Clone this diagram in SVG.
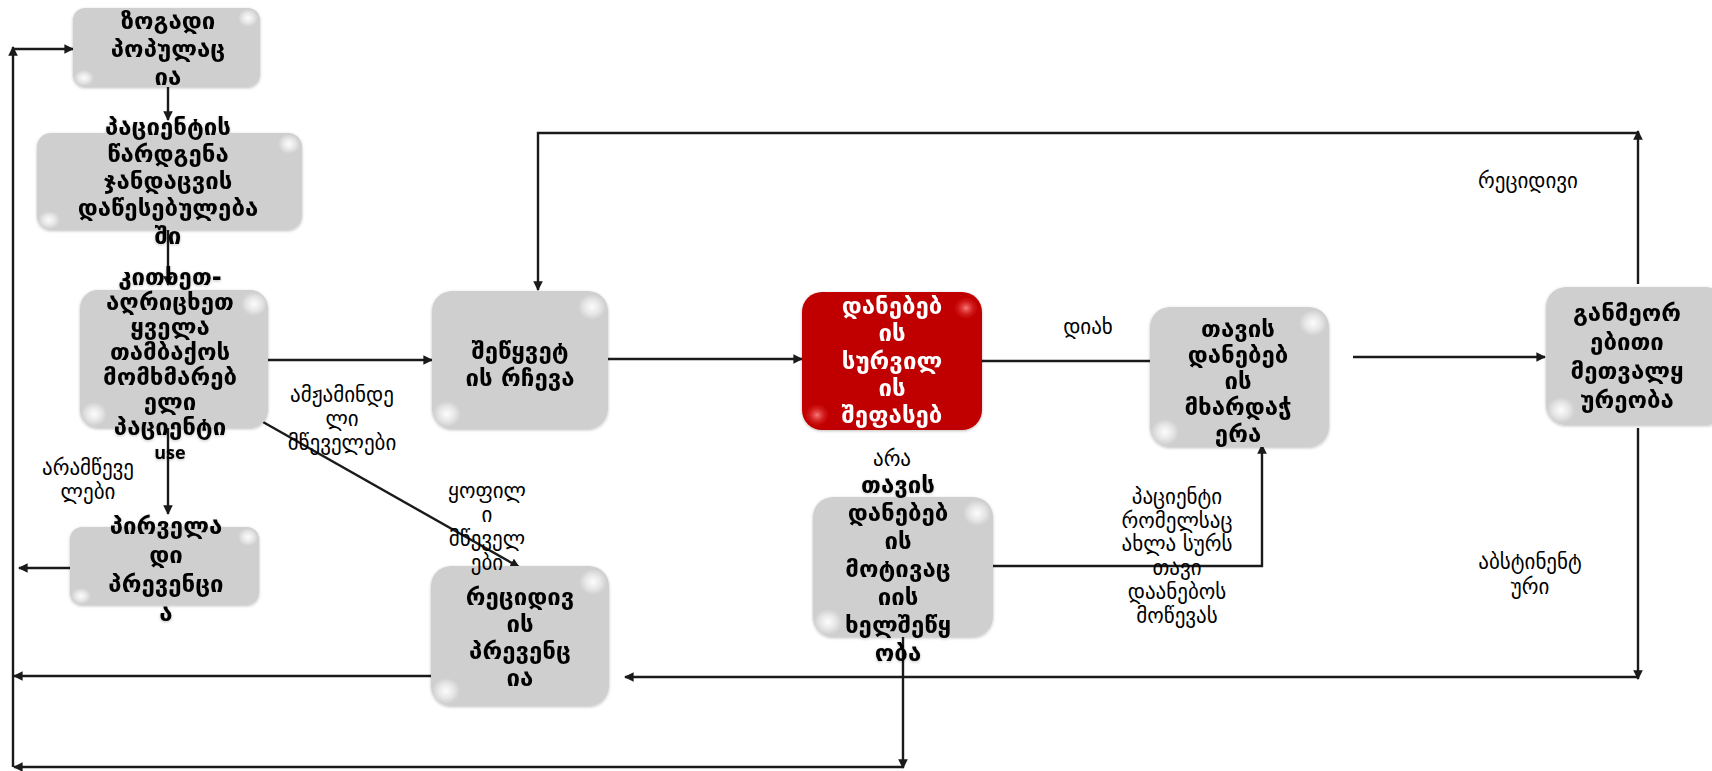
<svg xmlns="http://www.w3.org/2000/svg" width="1712" height="771" viewBox="0 0 1712 771">
<style>
.box{fill:#d0cfcf}
.red{fill:#c00000}
.nt{font-family:"DejaVu Sans",sans-serif;font-weight:bold;font-size:24px;fill:#000;text-anchor:middle}
.wt{fill:#fff}
.lb{font-family:"DejaVu Sans",sans-serif;font-size:21px;fill:#000;text-anchor:middle}
.lat{font-family:"Open Sans","Liberation Sans",sans-serif;font-weight:bold;font-size:18px;text-anchor:middle}
.ca{fill:none;stroke:#1a1a1a;stroke-width:2.4;marker-end:url(#ah)}
</style>
<defs>
<marker id="ah" viewBox="0 0 10 10" refX="9" refY="5" markerWidth="4" markerHeight="4" orient="auto" markerUnits="strokeWidth">
<path d="M0,0 L10,5 L0,10 z" fill="#1a1a1a"/>
</marker>
<radialGradient id="hl">
<stop offset="0" stop-color="#fff" stop-opacity="0.95"/>
<stop offset="0.55" stop-color="#fff" stop-opacity="0.5"/>
<stop offset="1" stop-color="#fff" stop-opacity="0"/>
</radialGradient>
<radialGradient id="hlr">
<stop offset="0" stop-color="#ff8a8a" stop-opacity="0.9"/>
<stop offset="0.55" stop-color="#e03030" stop-opacity="0.5"/>
<stop offset="1" stop-color="#c00000" stop-opacity="0"/>
</radialGradient>
<filter id="sh" x="-10%" y="-10%" width="120%" height="120%">
<feGaussianBlur in="SourceAlpha" stdDeviation="1.5"/>
<feOffset dx="0" dy="1" result="b"/>
<feFlood flood-color="#000" flood-opacity="0.25"/>
<feComposite in2="b" operator="in"/>
<feMerge><feMergeNode/><feMergeNode in="SourceGraphic"/></feMerge>
</filter>
</defs>

<g id="connectors">
<line class="ca" x1="168" y1="87" x2="168" y2="120"/>
<line class="ca" x1="168" y1="230" x2="168" y2="285"/>
<line class="ca" x1="168" y1="428" x2="168" y2="514"/>
<line class="ca" x1="73" y1="568" x2="19" y2="568"/>
<line class="ca" x1="267" y1="360" x2="432" y2="360"/>
<line class="ca" x1="263" y1="422" x2="519" y2="567"/>
<line class="ca" x1="608" y1="359" x2="802" y2="359"/>
<line class="ca" x1="982" y1="361" x2="1173" y2="361"/>
<line class="ca" x1="1353" y1="357" x2="1545" y2="357"/>
<polyline class="ca" points="993,566 1262,566 1262,445"/>
<line class="ca" x1="1638" y1="284" x2="1638" y2="131"/>
<polyline class="ca" points="1638,133 538,133 538,290"/>
<line class="ca" x1="1638" y1="428" x2="1638" y2="679"/>
<line class="ca" x1="1638" y1="677" x2="625" y2="677"/>
<line class="ca" x1="431" y1="676" x2="14" y2="676"/>
<line class="ca" x1="903" y1="637" x2="903" y2="768"/>
<line class="ca" x1="903" y1="767" x2="14" y2="767"/>
<line class="ca" x1="13" y1="767" x2="13" y2="47"/>
<line class="ca" x1="13" y1="49" x2="73" y2="49"/>
</g>

<g id="n1" filter="url(#sh)">
<rect class="box" x="73" y="8" width="187" height="79" rx="12"/>
<ellipse cx="248" cy="18" rx="10" ry="9" fill="url(#hl)"/>
<ellipse cx="84" cy="78" rx="10" ry="8" fill="url(#hl)"/>
<text class="nt" x="168"><tspan x="168" y="29">ზოგადი</tspan><tspan x="168" y="57">პოპულაც</tspan><tspan x="168" y="85">ია</tspan></text>
</g>

<g id="n2" filter="url(#sh)">
<rect class="box" x="37" y="133" width="265" height="97" rx="14"/>
<ellipse cx="289" cy="144" rx="11" ry="10" fill="url(#hl)"/>
<ellipse cx="49" cy="220" rx="11" ry="9" fill="url(#hl)"/>
<text class="nt" x="168"><tspan x="168" y="135">პაციენტის</tspan><tspan x="168" y="162">წარდგენა</tspan><tspan x="168" y="189">ჯანდაცვის</tspan><tspan x="168" y="216">დაწესებულება</tspan><tspan x="168" y="244">ში</tspan></text>
</g>

<g id="n3" filter="url(#sh)">
<rect class="box" x="80" y="290" width="188" height="138" rx="18"/>
<ellipse cx="254" cy="304" rx="13" ry="12" fill="url(#hl)"/>
<ellipse cx="94" cy="414" rx="13" ry="12" fill="url(#hl)"/>
<text class="nt" x="170"><tspan x="170" y="285">კითხეთ-</tspan><tspan x="170" y="310">აღრიცხეთ</tspan><tspan x="170" y="335">ყველა</tspan><tspan x="170" y="360">თამბაქოს</tspan><tspan x="170" y="385">მომხმარებ</tspan><tspan x="170" y="410">ელი</tspan><tspan x="170" y="435">პაციენტი</tspan></text>
<text class="lat" x="170" y="459">use</text>
</g>

<g id="n4" filter="url(#sh)">
<rect class="box" x="70" y="527" width="189" height="78" rx="12"/>
<ellipse cx="248" cy="537" rx="10" ry="9" fill="url(#hl)"/>
<ellipse cx="81" cy="596" rx="10" ry="8" fill="url(#hl)"/>
<text class="nt" x="166"><tspan x="166" y="534">პირველა</tspan><tspan x="166" y="563">დი</tspan><tspan x="166" y="592">პრევენცი</tspan><tspan x="166" y="621">ა</tspan></text>
</g>

<g id="n5" filter="url(#sh)">
<rect class="box" x="432" y="291" width="176" height="138" rx="20"/>
<ellipse cx="592" cy="307" rx="14" ry="13" fill="url(#hl)"/>
<ellipse cx="447" cy="414" rx="14" ry="13" fill="url(#hl)"/>
<text class="nt" x="520"><tspan x="520" y="359">შეწყვეტ</tspan><tspan x="520" y="386">ის რჩევა</tspan></text>
</g>

<g id="n6" filter="url(#sh)">
<rect class="box" x="431" y="566" width="178" height="140" rx="20"/>
<ellipse cx="593" cy="582" rx="14" ry="13" fill="url(#hl)"/>
<ellipse cx="446" cy="691" rx="14" ry="13" fill="url(#hl)"/>
<text class="nt" x="520"><tspan x="520" y="605">რეციდივ</tspan><tspan x="520" y="632">ის</tspan><tspan x="520" y="659">პრევენც</tspan><tspan x="520" y="686">ია</tspan></text>
</g>

<g id="n7" filter="url(#sh)">
<rect class="red" x="802" y="292" width="180" height="138" rx="20"/>
<ellipse cx="966" cy="308" rx="14" ry="13" fill="url(#hlr)"/>
<ellipse cx="817" cy="415" rx="14" ry="13" fill="url(#hlr)"/>
<text class="nt wt" x="892"><tspan x="892" y="314">დანებებ</tspan><tspan x="892" y="341">ის</tspan><tspan x="892" y="369">სურვილ</tspan><tspan x="892" y="396">ის</tspan><tspan x="892" y="423">შეფასებ</tspan></text>
</g>

<g id="n8" filter="url(#sh)">
<rect class="box" x="1150" y="307" width="179" height="140" rx="20"/>
<ellipse cx="1313" cy="323" rx="14" ry="13" fill="url(#hl)"/>
<ellipse cx="1165" cy="432" rx="14" ry="13" fill="url(#hl)"/>
<text class="nt" x="1238"><tspan x="1238" y="337">თავის</tspan><tspan x="1238" y="363">დანებებ</tspan><tspan x="1238" y="389">ის</tspan><tspan x="1238" y="415">მხარდაჭ</tspan><tspan x="1238" y="442">ერა</tspan></text>
</g>

<g id="n9" filter="url(#sh)">
<rect class="box" x="813" y="497" width="180" height="140" rx="20"/>
<ellipse cx="977" cy="513" rx="14" ry="13" fill="url(#hl)"/>
<ellipse cx="828" cy="622" rx="14" ry="13" fill="url(#hl)"/>
<text class="nt" x="898"><tspan x="898" y="493">თავის</tspan><tspan x="898" y="521">დანებებ</tspan><tspan x="898" y="549">ის</tspan><tspan x="898" y="577">მოტივაც</tspan><tspan x="898" y="605">იის</tspan><tspan x="898" y="633">ხელშეწყ</tspan><tspan x="898" y="661">ობა</tspan></text>
</g>

<g id="n10" filter="url(#sh)">
<rect class="box" x="1546" y="287" width="180" height="138" rx="20"/>
<ellipse cx="1561" cy="410" rx="14" ry="13" fill="url(#hl)"/>
<text class="nt" x="1627"><tspan x="1627" y="321">განმეორ</tspan><tspan x="1627" y="350">ებითი</tspan><tspan x="1627" y="379">მეთვალყ</tspan><tspan x="1627" y="408">ურეობა</tspan></text>
</g>

<g id="labels">
<text class="lb"><tspan x="88" y="475">არამწევე</tspan><tspan x="88" y="499">ლები</tspan></text>
<text class="lb"><tspan x="342" y="402">ამჟამინდე</tspan><tspan x="342" y="426">ლი</tspan><tspan x="342" y="450">მწეველები</tspan></text>
<text class="lb"><tspan x="487" y="498">ყოფილ</tspan><tspan x="487" y="522">ი</tspan><tspan x="487" y="546">მწეველ</tspan><tspan x="487" y="570">ები</tspan></text>
<text class="lb" x="1088" y="334">დიახ</text>
<text class="lb" x="892" y="466">არა</text>
<text class="lb"><tspan x="1177" y="504">პაციენტი</tspan><tspan x="1177" y="528">რომელსაც</tspan><tspan x="1177" y="551">ახლა სურს</tspan><tspan x="1177" y="575">თავი</tspan><tspan x="1177" y="599">დაანებოს</tspan><tspan x="1177" y="623">მოწევას</tspan></text>
<text class="lb" x="1528" y="188">რეციდივი</text>
<text class="lb"><tspan x="1530" y="569">აბსტინენტ</tspan><tspan x="1530" y="594">ური</tspan></text>
</g>
</svg>
